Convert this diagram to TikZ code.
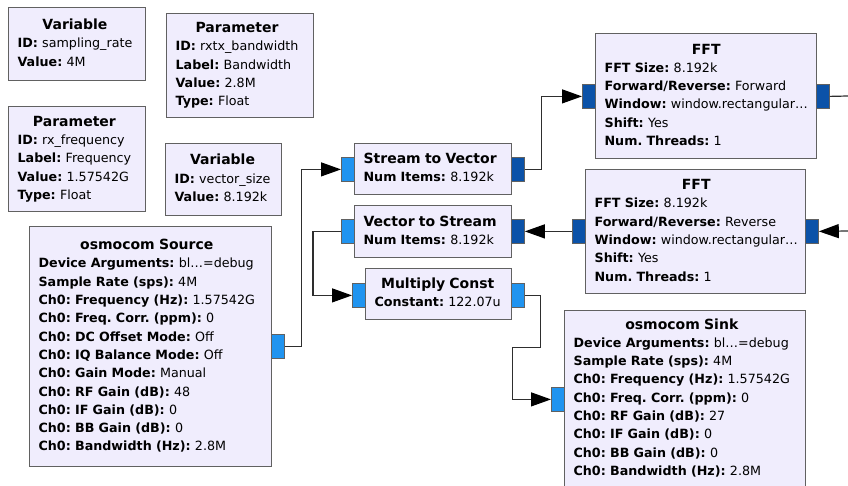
\documentclass[tikz,border=0pt]{standalone}
\usepackage{fontspec}
\setmainfont{DejaVu Sans}
\usepackage{xcolor}
\usepackage{tikz}
\usetikzlibrary{arrows.meta}
\setlength{\parindent}{0pt}
\frenchspacing
\definecolor{blkfill}{HTML}{F0EDFD}
\definecolor{blkline}{HTML}{616161}
\definecolor{portlight}{HTML}{2094F0}
\definecolor{portdark}{HTML}{0B52A8}
\definecolor{wireline}{HTML}{2E2E2E}
\tikzset{
  blk/.style={draw=blkline, fill=blkfill, line width=1.2pt, anchor=north west,
    inner xsep=9pt, inner ysep=0pt, align=left,
    font=\fontsize{12.7}{18.3}\selectfont},
  inport/.style={draw=blkline, fill=portlight, line width=0.8pt, anchor=north west,
    inner sep=0pt, minimum width=13pt, minimum height=24pt},
  vport/.style={inport, fill=portdark},
  wire/.style={draw=wireline, line width=1.2pt},
  flow/.style={wire, -{Triangle[length=20pt,width=14pt,color=black]}}
}
\newcommand{\bt}[1]{\multicolumn{1}{@{}c@{}}{\fontsize{14}{18.3}\selectfont\bfseries #1}}

\begin{document}
\begin{tikzpicture}[x=1pt,y=-1pt]
\useasboundingbox (0,0) rectangle (848,486);
\clip (0,0) rectangle (848,486);
%\draw[help lines] (0,0) grid[step=50] (848,486);
% variables and parameters
\node[blk, text width=119pt, minimum width=137pt, minimum height=73pt] (var-rate) at (8,7)
  {\begin{tabular}{@{}l@{}}\bt{Variable}\\ \textbf{ID:} sampling\_rate\\ \textbf{Value:} 4M\end{tabular}};
\node[blk, text width=129pt, minimum width=147pt, minimum height=104pt] (par-bw) at (166,13)
  {\begin{tabular}{@{}l@{}}\bt{Parameter}\\ \textbf{ID:} rxtx\_bandwidth\\ \textbf{Label:} Bandwidth\\ \textbf{Value:} 2.8M\\ \textbf{Type:} Float\end{tabular}};
\node[blk, text width=119pt, minimum width=137pt, minimum height=105pt] (par-freq) at (8,106)
  {\begin{tabular}{@{}l@{}}\bt{Parameter}\\ \textbf{ID:} rx\_frequency\\ \textbf{Label:} Frequency\\ \textbf{Value:} 1.57542G\\ \textbf{Type:} Float\end{tabular}};
\node[blk, text width=98pt, minimum width=116pt, minimum height=72pt] (var-vec) at (165,143)
  {\begin{tabular}{@{}l@{}}\bt{Variable}\\ \textbf{ID:} vector\_size\\ \textbf{Value:} 8.192k\end{tabular}};
% source
\node[blk, text width=224pt, minimum width=242pt, minimum height=240pt] (src) at (29,226)
  {\begin{tabular}{@{}l@{}}\bt{osmocom Source}\\
   \textbf{Device Arguments:} bl…=debug\\
   \textbf{Sample Rate (sps):} 4M\\
   \textbf{Ch0: Frequency (Hz):} 1.57542G\\
   \textbf{Ch0: Freq. Corr. (ppm):} 0\\
   \textbf{Ch0: DC Offset Mode:} Off\\
   \textbf{Ch0: IQ Balance Mode:} Off\\
   \textbf{Ch0: Gain Mode:} Manual\\
   \textbf{Ch0: RF Gain (dB):} 48\\
   \textbf{Ch0: IF Gain (dB):} 0\\
   \textbf{Ch0: BB Gain (dB):} 0\\
   \textbf{Ch0: Bandwidth (Hz):} 2.8M\end{tabular}};
% middle column
\node[blk, text width=139pt, minimum width=157pt, minimum height=51pt] (s2v) at (354,143)
  {\begin{tabular}{@{}l@{}}\bt{Stream to Vector}\\ \textbf{Num Items:} 8.192k\end{tabular}};
\node[blk, text width=139pt, minimum width=157pt, minimum height=52pt] (v2s) at (354,205)
  {\begin{tabular}{@{}l@{}}\bt{Vector to Stream}\\ \textbf{Num Items:} 8.192k\end{tabular}};
\node[blk, text width=128pt, minimum width=146pt, minimum height=51pt] (mc) at (365,268)
  {\begin{tabular}{@{}l@{}}\bt{Multiply Const}\\ \textbf{Constant:} 122.07u\end{tabular}};
% fft blocks
\node[blk, text width=203pt, minimum width=221pt, minimum height=125pt] (fftf) at (595,33)
  {\begin{tabular}{@{}l@{}}\bt{FFT}\\ \textbf{FFT Size:} 8.192k\\ \textbf{Forward/Reverse:} Forward\\
   \textbf{Window:} window.rectangular…\\ \textbf{Shift:} Yes\\ \textbf{Num. Threads:} 1\end{tabular}};
\node[blk, text width=202pt, minimum width=220pt, minimum height=124pt] (fftr) at (585,169)
  {\begin{tabular}{@{}l@{}}\bt{FFT}\\ \textbf{FFT Size:} 8.192k\\ \textbf{Forward/Reverse:} Reverse\\
   \textbf{Window:} window.rectangular…\\ \textbf{Shift:} Yes\\ \textbf{Num. Threads:} 1\end{tabular}};
% sink
\node[blk, text width=223pt, minimum width=241pt, minimum height=176pt] (sink) at (564,310)
  {\begin{tabular}{@{}l@{}}\bt{osmocom Sink}\\
   \textbf{Device Arguments:} bl…=debug\\
   \textbf{Sample Rate (sps):} 4M\\
   \textbf{Ch0: Frequency (Hz):} 1.57542G\\
   \textbf{Ch0: Freq. Corr. (ppm):} 0\\
   \textbf{Ch0: RF Gain (dB):} 27\\
   \textbf{Ch0: IF Gain (dB):} 0\\
   \textbf{Ch0: BB Gain (dB):} 0\\
   \textbf{Ch0: Bandwidth (Hz):} 2.8M\end{tabular}};
% ports
\node[inport] (src-out) at (271,334) {};
\node[inport] (s2v-in) at (341,157) {};
\node[vport] (s2v-out) at (511,157) {};
\node[inport] (v2s-in) at (341,219) {};
\node[vport] (v2s-out) at (511,219) {};
\node[inport] (mc-in) at (352,283) {};
\node[inport] (mc-out) at (511,283) {};
\node[vport] (fftf-in) at (582,84) {};
\node[vport] (fftf-out) at (816,84) {};
\node[vport] (fftr-out) at (572,219) {};
\node[vport] (fftr-in) at (805,219) {};
\node[inport] (sink-in) at (551,387) {};
\coordinate (fftf-end) at (848,96);
\coordinate (fftr-src) at (848,231);
% connections
\draw[flow] (src-out.east) -- ++(17,0) |- (s2v-in.west);
\draw[flow] (s2v-out.east) -- ++(17,0) |- (fftf-in.west);
\draw[wire] (fftf-out.east) -- (fftf-end);
\draw[flow] (fftr-src) -- (fftr-in.east);
\draw[flow] (fftr-out.west) -- (v2s-out.east);
\draw[flow] (v2s-in.west) -- ++(-28,0) |- (mc-in.west);
\draw[flow] (mc-out.east) -- ++(16,0) -- ++(0,52) -- ++(-28,0) |- (sink-in.west);
\end{tikzpicture}
\end{document}
